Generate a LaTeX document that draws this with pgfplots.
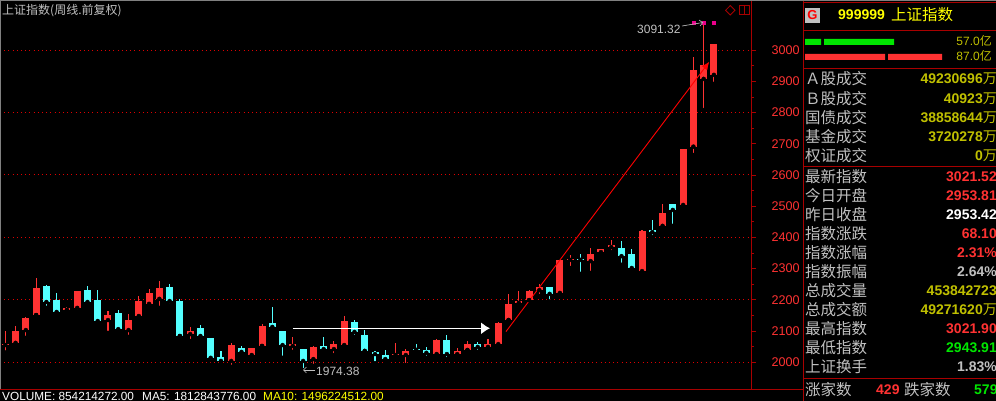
\documentclass[border=0pt]{standalone}
\usepackage{fontspec}
\usepackage{pgfplots}
\usepackage{pgfplotstable}
\pgfplotsset{compat=1.18}
\usetikzlibrary{arrows.meta}
\setmainfont{Liberation Sans}
\newfontfamily\cjk{Noto Sans CJK SC}

\definecolor{upred}{HTML}{FF3232}
\definecolor{downcyan}{HTML}{54FFFF}
\definecolor{frame}{HTML}{A80000}
\definecolor{gridred}{HTML}{E00000}
\definecolor{lgray}{HTML}{C0C0C0}
\definecolor{dimyel}{HTML}{C0C000}
\definecolor{brightyel}{HTML}{FFFF00}
\definecolor{upgreen}{HTML}{00E600}

% i high top bottom low
\pgfplotstableread{
i h t b l
0 2101 2058 2055 2031
1 2116 2100 2062 2055
2 2145 2142 2103 2078
3 2270 2238 2151 2151
6 2177 2174 2168 2164
7 2228 2228 2174 2161
10 2164 2151 2135 2094
12 2154 2135 2103 2081
13 2212 2196 2148 2145
14 2235 2222 2187 2177
15 2260 2238 2203 2174
18 2113 2100 2090 2068
22 2062 2055 2004 1985
24 2046 2046 2023 2017
25 2122 2116 2052 2052
28 2081 2058 2052 2033
30 2052 2049 2010 1988
32 2068 2058 2042 2023
33 2148 2132 2055 2052
38 2062 2026 2023 2014
39 2042 2036 2023 1991
42 2074 2071 2026 2023
44 2046 2036 2026 2020
45 2068 2058 2039 2039
47 2074 2058 2049 2046
48 2129 2126 2058 2049
49 2219 2187 2135 2135
50 2228 2196 2190 2180
51 2231 2228 2199 2199
52 2251 2241 2231 2212
54 2328 2328 2222 2219
55 2344 2331 2328 2302
57 2366 2347 2324 2286
58 2363 2363 2353 2347
59 2392 2376 2369 2353
62 2424 2421 2292 2280
64 2507 2478 2437 2427
66 2683 2683 2504 2494
67 2977 2937 2691 2664
68 3091.32 2953 2908 2808
69 3020 3020 2921 2892
}\redtab

\pgfplotstableread{
i h t b l
4 2247 2244 2193 2174
5 2222 2199 2161 2151
8 2244 2231 2193 2183
9 2231 2199 2132 2122
11 2167 2158 2106 2103
16 2251 2241 2196 2183
17 2203 2196 2084 2084
19 2119 2110 2084 2078
20 2078 2078 2014 2007
21 2036 2017 2004 2001
23 2052 2046 2033 2026
26 2177 2126 2113 2100
27 2100 2100 2055 2014
29 2042 2042 2004 1974.38
31 2081 2052 2042 2036
34 2135 2129 2097 2081
35 2103 2087 2036 2036
36 2036 2033 2026 1997
37 2039 2023 2010 2001
40 2058 2043 2040 2030
41 2049 2039 2030 2014
43 2087 2071 2026 2010
46 2065 2058 2049 2033
53 2241 2241 2219 2195
56 2347 2331 2328 2283
60 2389 2366 2340 2312
61 2363 2347 2302 2296
63 2456 2424 2417 2401
65 2507 2507 2488 2437
}\cyantab

\newcommand{\candles}[2]{%
  \addplot[only marks, mark=none, error bars/.cd, y dir=plus, y explicit, error mark=none,
    error bar style={draw=#2, line width=1.1pt, solid}]
    table[x=i, y=l, y error plus expr=\thisrow{h}-\thisrow{l}] {#1};
  \addplot[only marks, mark=none, error bars/.cd, y dir=plus, y explicit, error mark=none,
    error bar style={draw=#2, line width=7pt, solid}]
    table[x=i, y=b, y error plus expr=\thisrow{t}-\thisrow{b}] {#1};
}
\newcommand{\rowlabel}[2]{\node[anchor=west, inner sep=0pt, text=lgray, font=\cjk\fontsize{15.5}{16}\selectfont] at (805,#1) {#2};}
\newcommand{\rowvalue}[3]{\node[anchor=east, inner sep=0pt, text=#2, font=\bfseries\fontsize{14}{16}\selectfont] at (997,#1) {#3};}
\newcommand{\wan}{{\cjk\mdseries\fontsize{14}{16}\selectfont 万}}

\begin{document}
\begin{tikzpicture}
\useasboundingbox (0pt,0pt) rectangle (996pt,401pt);
\fill[black] (0pt,0pt) rectangle (996pt,401pt);
\begin{axis}[
  at={(0pt,11.5pt)}, anchor=south west,
  scale only axis, width=751pt, height=389.5pt,
  xmin=-0.516, xmax=72.61, ymin=1912.5, ymax=3160.9,
  axis y line*=right, axis x line=none,
  axis line style={draw=frame, line width=0.9pt},
  ytick={2000,2100,...,3000}, minor y tick num=1,
  tick style={draw=frame, line width=0.8pt},
  major tick length=5pt, minor tick length=3pt, tick align=outside,
  extra y ticks={2000,2200,2400,2600,2800,3000},
  extra y tick labels={},
  extra y tick style={grid=major, major grid style={draw=gridred, line width=1pt, dash pattern=on 1pt off 3.2pt}},
  yticklabel style={text=upred, font=\fontsize{12.6}{14}\selectfont, anchor=west, xshift=15.5pt, inner sep=0pt},
  /pgf/number format/assume math mode=true,
  /pgf/number format/1000 sep={},
  clip=false,
]
\candles{\redtab}{upred}
\candles{\cyantab}{downcyan}
\addplot[white, line width=1.4pt, -{Latex[length=9pt,width=12pt]}] coordinates {(28,2108.7) (47.2,2108.7)};
\addplot[red, line width=0.9pt, -{Latex[length=8pt,width=7pt]}] coordinates {(48.75,2098) (68.55,2963)};
\addplot[only marks, mark=square*, mark size=1.6pt, mark options={draw=magenta, fill=magenta}] coordinates {(67,3089) (68,3089) (69,3089)};
\end{axis}
\begin{scope}[shift={(0pt,401pt)}, x=1pt, y=-1pt]
  % frame strips
  \fill[gray] (0,0) rectangle (996,1);
  \fill[gray] (0,0) rectangle (1,389);
  \draw[frame, line width=0.9pt] (0,389.5) -- (803,389.5);
  \draw[frame, line width=0.9pt] (803,1) -- (803,401);
  \foreach \yy in {2,30,68,166,378} \draw[frame, line width=0.9pt] (803,\yy) -- (996,\yy);
  % chart texts
  \node[anchor=west, inner sep=0pt, text=lgray, font=\cjk\fontsize{12}{14}\selectfont] at (2,11) {上证指数(周线.前复权)};
  \node[anchor=west, inner sep=0pt, text=lgray, font=\fontsize{12}{14}\selectfont] at (637,29.5) {3091.32};
  \draw[lgray, line width=0.6pt, -{Straight Barb[length=3pt]}] (682,26) -- (703,22.5);
  \node[anchor=west, inner sep=0pt, text=lgray, font=\fontsize{12}{14}\selectfont] at (316,371.5) {1974.38};
  \draw[lgray, line width=0.6pt, -{Straight Barb[length=3pt]}] (315,370) -- (303,370);
  \draw[frame, line width=0.8pt] (730.3,5.5) -- (735,10.3) -- (730.3,15) -- (725.6,10.3) -- cycle;
  \draw[frame, line width=0.8pt] (739.5,5) rectangle (749,14.5) (744.3,5) -- (744.3,14.5);
  % bottom line
  \node[anchor=base west, inner sep=0pt, text=white, font=\fontsize{11.8}{14}\selectfont] at (2,400.4) {VOLUME: 854214272.00};
  \node[anchor=base west, inner sep=0pt, text=white, font=\fontsize{11.8}{14}\selectfont] at (142,400.4) {MA5: 1812843776.00};
  \node[anchor=base west, inner sep=0pt, text=brightyel, font=\fontsize{11.8}{14}\selectfont] at (263,400.4) {MA10: 1496224512.00};
  % panel header
  \fill[lgray] (805,8) rectangle (820,23);
  \node[text=red, inner sep=0pt, font=\bfseries\fontsize{13}{14}\selectfont] at (812.5,15.5) {G};
  \node[anchor=west, inner sep=0pt, text=brightyel, font=\bfseries\fontsize{14}{16}\selectfont] at (838,15) {999999};
  \node[anchor=west, inner sep=0pt, text=brightyel, font=\cjk\fontsize{15.5}{16}\selectfont] at (891,15) {上证指数};
  % buy and sell bars
  \fill[upgreen] (805,39) rectangle (821,45) (824,39) rectangle (894,45);
  \fill[upred] (805,54) rectangle (885,60) (888,54) rectangle (942,60);
  \node[anchor=east, inner sep=0pt, text=dimyel, font=\fontsize{12}{14}\selectfont] at (992,41) {57.0{\cjk 亿}};
  \node[anchor=east, inner sep=0pt, text=dimyel, font=\fontsize{12}{14}\selectfont] at (992,56) {87.0{\cjk 亿}};
  % rows
  \rowlabel{79}{Ａ股成交}     \rowvalue{79}{dimyel}{49230696\wan}
  \rowlabel{98.7}{Ｂ股成交}   \rowvalue{98.7}{dimyel}{40923\wan}
  \rowlabel{117.7}{国债成交}  \rowvalue{117.7}{dimyel}{38858644\wan}
  \rowlabel{136.7}{基金成交}  \rowvalue{136.7}{dimyel}{3720278\wan}
  \rowlabel{155.7}{权证成交}  \rowvalue{155.7}{dimyel}{0\wan}
  \rowlabel{176.7}{最新指数}  \rowvalue{176.7}{upred}{3021.52}
  \rowlabel{195.7}{今日开盘}  \rowvalue{195.7}{upred}{2953.81}
  \rowlabel{215}{昨日收盘}    \rowvalue{215}{white}{2953.42}
  \rowlabel{234}{指数涨跌}    \rowvalue{234}{upred}{68.10}
  \rowlabel{253}{指数涨幅}    \rowvalue{253}{upred}{2.31\%}
  \rowlabel{271.7}{指数振幅}  \rowvalue{271.7}{lgray}{2.64\%}
  \rowlabel{291}{总成交量}    \rowvalue{291}{dimyel}{453842723}
  \rowlabel{310}{总成交额}    \rowvalue{310}{dimyel}{49271620\wan}
  \rowlabel{329}{最高指数}    \rowvalue{329}{upred}{3021.90}
  \rowlabel{348}{最低指数}    \rowvalue{348}{upgreen}{2943.91}
  \rowlabel{367}{上证换手}    \rowvalue{367}{lgray}{1.83\%}
  % advancers and decliners
  \node[anchor=west, inner sep=0pt, text=lgray, font=\cjk\fontsize{15.5}{16}\selectfont] at (805,390) {涨家数};
  \node[anchor=west, inner sep=0pt, text=upred, font=\bfseries\fontsize{14}{16}\selectfont] at (876,390) {429};
  \node[anchor=west, inner sep=0pt, text=lgray, font=\cjk\fontsize{15.5}{16}\selectfont] at (904,390) {跌家数};
  \node[anchor=west, inner sep=0pt, text=upgreen, font=\bfseries\fontsize{14}{16}\selectfont] at (974,390) {579};
\end{scope}
\end{tikzpicture}
\end{document}
